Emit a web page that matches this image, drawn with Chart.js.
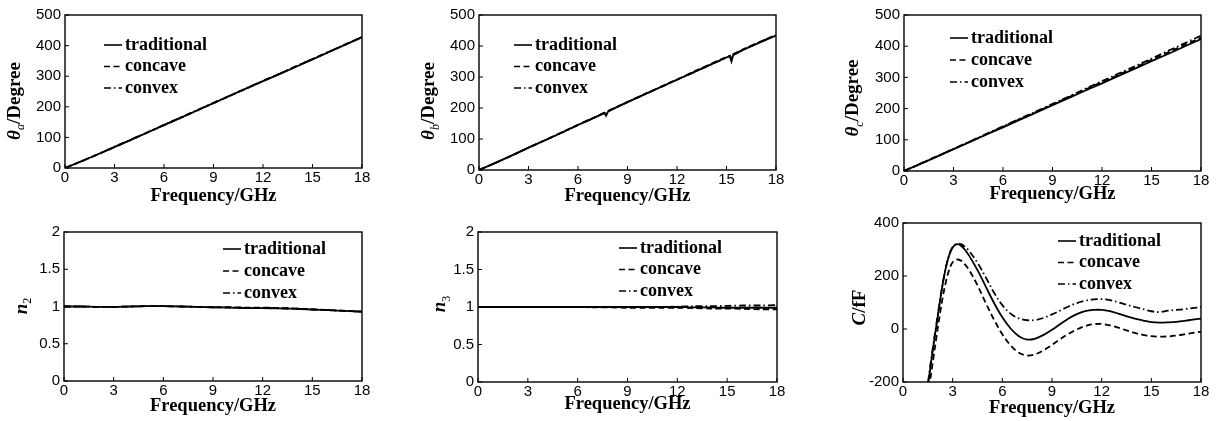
<!DOCTYPE html>
<html>
<head>
<meta charset="utf-8">
<script src="https://cdn.jsdelivr.net/npm/chart.js@4.4.1/dist/chart.umd.min.js"></script>
<style>
html, body { margin: 0; padding: 0; background: #fff; }
#wrap { position: relative; width: 1223px; height: 421px; overflow: hidden; }
.panel { position: absolute; }
</style>
</head>
<body>
<div id="wrap"></div>
<script>
// frequency samples, GHz
const freq = [0, 1, 2, 3, 4, 5, 6, 7, 8, 9, 10, 11, 12, 13, 14, 15, 16, 17, 18];
const freqB = [0, 1, 2, 3, 4, 5, 6, 7, 7.6, 7.7, 7.8, 8, 9, 10, 11, 12, 13, 14, 15, 15.2, 15.3, 15.4, 16, 17, 18];
const freqC = [1.4, 1.6, 1.8, 2.0, 2.2, 2.4, 2.6, 2.8, 3.0, 3.25, 3.5, 3.75, 4.0, 4.5, 5.0, 5.5, 6.0, 6.5, 7.0, 7.5,
  8.0, 8.5, 9.0, 9.5, 10, 10.5, 11, 11.5, 12, 12.5, 13, 13.5, 14, 14.5, 15, 15.5, 16, 16.5, 17, 17.5, 18];

const xTicks = [0, 3, 6, 9, 12, 15, 18];

// theta_a / degree
const thetaA_trad = [0, 22, 45, 69, 92, 116, 140, 164, 188, 212, 236, 260, 284, 307, 331, 355, 379, 403, 427];
const thetaA_conc = [0, 22, 45, 68, 92, 116, 140, 164, 188, 212, 236, 260, 284, 308, 332, 356, 380, 404, 428];
const thetaA_conv = [0, 22, 45, 69, 93, 117, 141, 165, 189, 213, 237, 261, 285, 308, 332, 356, 380, 404, 428];

// theta_b / degree (small glitches near 7.7 and 15.3 GHz)
const thetaB_trad = [0, 23, 47, 72, 96, 120, 145, 169, 184, 175, 187, 194, 219, 243, 267, 291, 315, 339, 363, 368, 350, 370, 387, 411, 434];
const thetaB_conc = [0, 23, 47, 72, 96, 121, 146, 170, 185, 183, 190, 195, 220, 244, 268, 292, 317, 341, 365, 369, 358, 374, 389, 413, 436];
const thetaB_conv = [0, 23, 47, 72, 96, 120, 145, 169, 184, 178, 188, 194, 219, 243, 267, 291, 315, 339, 363, 368, 355, 371, 388, 412, 435];

// theta_c / degree
const thetaC_trad = [0, 23, 46, 70, 93, 117, 140, 164, 187, 211, 234, 258, 281, 305, 328, 352, 375, 399, 423];
const thetaC_conc = [0, 23, 47, 70, 94, 118, 142, 166, 189, 213, 237, 261, 285, 308, 332, 356, 380, 404, 428];
const thetaC_conv = [0, 24, 47, 71, 95, 119, 143, 167, 191, 215, 239, 264, 288, 312, 336, 360, 385, 409, 434];

// n2
const n2_trad = [1.0, 1.0, 0.995, 0.995, 1.0, 1.005, 1.005, 1.0, 0.995, 0.99, 0.985, 0.98, 0.978, 0.975, 0.97, 0.96, 0.95, 0.94, 0.93];
const n2_conc = [1.0, 1.0, 0.995, 0.995, 1.0, 1.005, 1.005, 1.0, 0.995, 0.99, 0.99, 0.985, 0.985, 0.98, 0.972, 0.962, 0.952, 0.942, 0.932];
const n2_conv = [1.0, 1.0, 0.995, 0.995, 1.0, 1.005, 1.005, 1.0, 0.995, 0.99, 0.987, 0.982, 0.98, 0.976, 0.97, 0.96, 0.95, 0.94, 0.93];

// n3
const n3_trad = [1, 1, 1, 1, 1, 1, 1, 1, 1, 1, 1, 1, 1, 0.995, 0.995, 0.99, 0.99, 0.99, 0.99];
const n3_conc = [1, 1, 1, 1, 1, 1, 1, 0.995, 0.995, 0.99, 0.99, 0.99, 0.99, 0.985, 0.98, 0.98, 0.975, 0.97, 0.97];
const n3_conv = [1, 1, 1, 1, 1, 1, 1, 1, 1, 1, 1, 1, 1.005, 1.01, 1.01, 1.015, 1.02, 1.02, 1.025];

// C / fF
const cap_trad = [-265, -170, -80, 5, 90, 170, 235, 280, 308, 320, 314, 298, 276, 222, 160, 98, 44, 2, -27, -40,
  -36, -22, -3, 19, 40, 56, 67, 72, 72, 67, 58, 48, 39, 32, 26, 24, 25, 27, 31, 35, 39];
const cap_conc = [-330, -215, -125, -40, 45, 120, 180, 225, 252, 262, 258, 243, 222, 165, 98, 35, -20, -62, -90, -100,
  -95, -80, -60, -38, -18, -2, 11, 18, 19, 14, 5, -5, -15, -22, -27, -29, -28, -25, -20, -15, -10];
const cap_conv = [-255, -160, -72, 12, 95, 172, 236, 281, 309, 322, 320, 310, 294, 250, 195, 137, 90, 58, 40, 33,
  34, 42, 55, 70, 85, 98, 107, 112, 113, 109, 101, 92, 83, 75, 67, 64, 69, 72, 75, 79, 83];

const seriesNames = ['traditional', 'concave', 'convex'];
const dashes = [[], [6, 3.5], [7, 3, 1.5, 3]];

const SERIF = "'Liberation Serif', 'Times New Roman', serif";
const SANS = "'Liberation Sans', Arial, sans-serif";

const pts = (xs, ys) => xs.map((x, i) => ({ x: x, y: ys[i] }));

const panels = [
  { box: [0, 0, 410, 210], area: [65, 15, 362, 168], y: [0, 500, 100], titleY: 196.3,
    yTitle: { x: 15, y: 101, parts: [{ t: 'θ', it: true }, { t: 'a', sub: true }, { t: '/Degree' }] },
    legend: [39, 30, 21.5], xs: [freq, freq, freq], ys: [thetaA_trad, thetaA_conc, thetaA_conv], tension: 0 },
  { box: [410, 0, 400, 210], area: [479, 15, 776, 170], y: [0, 500, 100], titleY: 196.3,
    yTitle: { x: 429.5, y: 101, parts: [{ t: 'θ', it: true }, { t: 'b', sub: true }, { t: '/Degree' }] },
    legend: [35, 30, 21.5], xs: [freqB, freqB, freqB], ys: [thetaB_trad, thetaB_conc, thetaB_conv], tension: 0 },
  { box: [810, 0, 413, 210], area: [904, 15, 1201, 171], y: [0, 500, 100], titleY: 194.7,
    yTitle: { x: 853.5, y: 98, parts: [{ t: 'θ', it: true }, { t: 'c', sub: true }, { t: '/Degree' }] },
    legend: [46, 23, 22], xs: [freq, freq, freq], ys: [thetaC_trad, thetaC_conc, thetaC_conv], tension: 0 },
  { box: [0, 210, 410, 211], area: [64, 232, 362, 381], y: [0, 2, 0.5], titleY: 406.2,
    yTitle: { x: 22, y: 306, parts: [{ t: 'n', it: true }, { t: '2', sub: true, up: true }] },
    legend: [159, 17, 22], xs: [freq, freq, freq], ys: [n2_trad, n2_conc, n2_conv], tension: 0.3 },
  { box: [410, 210, 400, 211], area: [478, 232, 777, 382], y: [0, 2, 0.5], titleY: 404.7,
    yTitle: { x: 440.5, y: 304, parts: [{ t: 'n', it: true }, { t: '3', sub: true, up: true }] },
    legend: [141, 16, 21.5], xs: [freq, freq, freq], ys: [n3_trad, n3_conc, n3_conv], tension: 0.3 },
  { box: [810, 210, 413, 211], area: [903, 222, 1201, 382], y: [-200, 400, 200], titleY: 407.8,
    yTitle: { x: 860, y: 307.5, parts: [{ t: 'C', it: true }, { t: '/fF' }] },
    legend: [155, 18, 21.5], xs: [freqC, freqC, freqC], ys: [cap_trad, cap_conc, cap_conv], tension: 0.35 }
];

function partFont(p) {
  if (p.sub) return (p.up ? '' : 'italic ') + '12px ' + SERIF;
  return (p.it ? 'italic ' : '') + 'bold 19px ' + SERIF;
}

function makeDecor(p) {
  return {
    id: 'decor',
    afterDatasetsDraw(chart) {
      const { ctx, chartArea: a, scales: { x, y } } = chart;
      ctx.save();
      ctx.strokeStyle = '#000';
      ctx.fillStyle = '#000';
      ctx.lineWidth = 1.4;
      ctx.setLineDash([]);
      ctx.strokeRect(a.left, a.top, a.right - a.left, a.bottom - a.top);
      // inward ticks
      ctx.lineWidth = 1;
      ctx.beginPath();
      x.ticks.forEach(t => {
        const px = x.getPixelForValue(t.value);
        ctx.moveTo(px, a.bottom);
        ctx.lineTo(px, a.bottom - 4);
      });
      y.ticks.forEach(t => {
        const py = y.getPixelForValue(t.value);
        ctx.moveTo(a.left, py);
        ctx.lineTo(a.left + 4, py);
      });
      ctx.stroke();

      // legend inside plot
      const [dx, dy, gap] = p.legend;
      chart.data.datasets.forEach((ds, i) => {
        const ly = a.top + dy + i * gap;
        ctx.lineWidth = 1.6;
        ctx.setLineDash(ds.borderDash || []);
        ctx.beginPath();
        ctx.moveTo(a.left + dx, ly);
        ctx.lineTo(a.left + dx + 18, ly);
        ctx.stroke();
        ctx.setLineDash([]);
        ctx.font = 'bold 18px ' + SERIF;
        ctx.textBaseline = 'middle';
        ctx.textAlign = 'left';
        ctx.fillText(ds.label, a.left + dx + 21, ly);
      });

      // y title with subscript
      const yt = p.yTitle;
      ctx.translate(yt.x - p.box[0], yt.y - p.box[1]);
      ctx.rotate(-Math.PI / 2);
      ctx.textBaseline = 'middle';
      let total = 0;
      const widths = yt.parts.map(part => {
        ctx.font = partFont(part);
        const w = ctx.measureText(part.t).width;
        total += w;
        return w;
      });
      let tx = -total / 2;
      yt.parts.forEach((part, i) => {
        ctx.font = partFont(part);
        ctx.fillText(part.t, tx, part.sub ? 6 : 0);
        tx += widths[i];
      });
      ctx.restore();
    }
  };
}

const wrap = document.getElementById('wrap');
panels.forEach(p => {
  const [bx, by, bw, bh] = p.box;
  const [L, T, R, B] = p.area;
  const div = document.createElement('div');
  div.className = 'panel';
  div.style.left = bx + 'px';
  div.style.top = by + 'px';
  div.style.width = bw + 'px';
  div.style.height = bh + 'px';
  const canvas = document.createElement('canvas');
  div.appendChild(canvas);
  wrap.appendChild(div);

  const yw = L - bx;
  const xh = by + bh - B;
  const titlePad = by + bh - 9.25 - p.titleY;

  new Chart(canvas, {
    type: 'line',
    data: {
      datasets: seriesNames.map((name, i) => ({
        label: name,
        data: pts(p.xs[i], p.ys[i]),
        borderColor: '#000',
        borderWidth: 1.8,
        borderDash: dashes[i],
        pointRadius: 0,
        fill: false,
        tension: p.tension
      }))
    },
    options: {
      responsive: true,
      maintainAspectRatio: false,
      animation: false,
      events: [],
      layout: { padding: { top: T - by, right: bx + bw - R, left: 0, bottom: 0 } },
      plugins: { legend: { display: false }, tooltip: { enabled: false } },
      scales: {
        x: {
          type: 'linear',
          min: 0,
          max: 18,
          afterBuildTicks: s => { s.ticks = xTicks.map(v => ({ value: v })); },
          ticks: { color: '#000', font: { family: SANS, size: 15 }, padding: 1, maxRotation: 0 },
          grid: { display: false, drawTicks: false },
          border: { display: false },
          title: {
            display: true,
            text: 'Frequency/GHz',
            color: '#000',
            font: { family: SERIF, size: 18.5, weight: 'bold', lineHeight: 1 },
            padding: { top: 0, bottom: titlePad }
          },
          afterFit: s => { s.height = xh; }
        },
        y: {
          type: 'linear',
          min: p.y[0],
          max: p.y[1],
          ticks: {
            stepSize: p.y[2],
            color: '#000',
            font: { family: SANS, size: 15 },
            padding: 4,
            callback: v => String(Math.round(v * 100) / 100)
          },
          grid: { display: false, drawTicks: false },
          border: { display: false },
          afterFit: s => { s.width = yw; }
        }
      }
    },
    plugins: [makeDecor(p)]
  });
});
</script>
</body>
</html>
